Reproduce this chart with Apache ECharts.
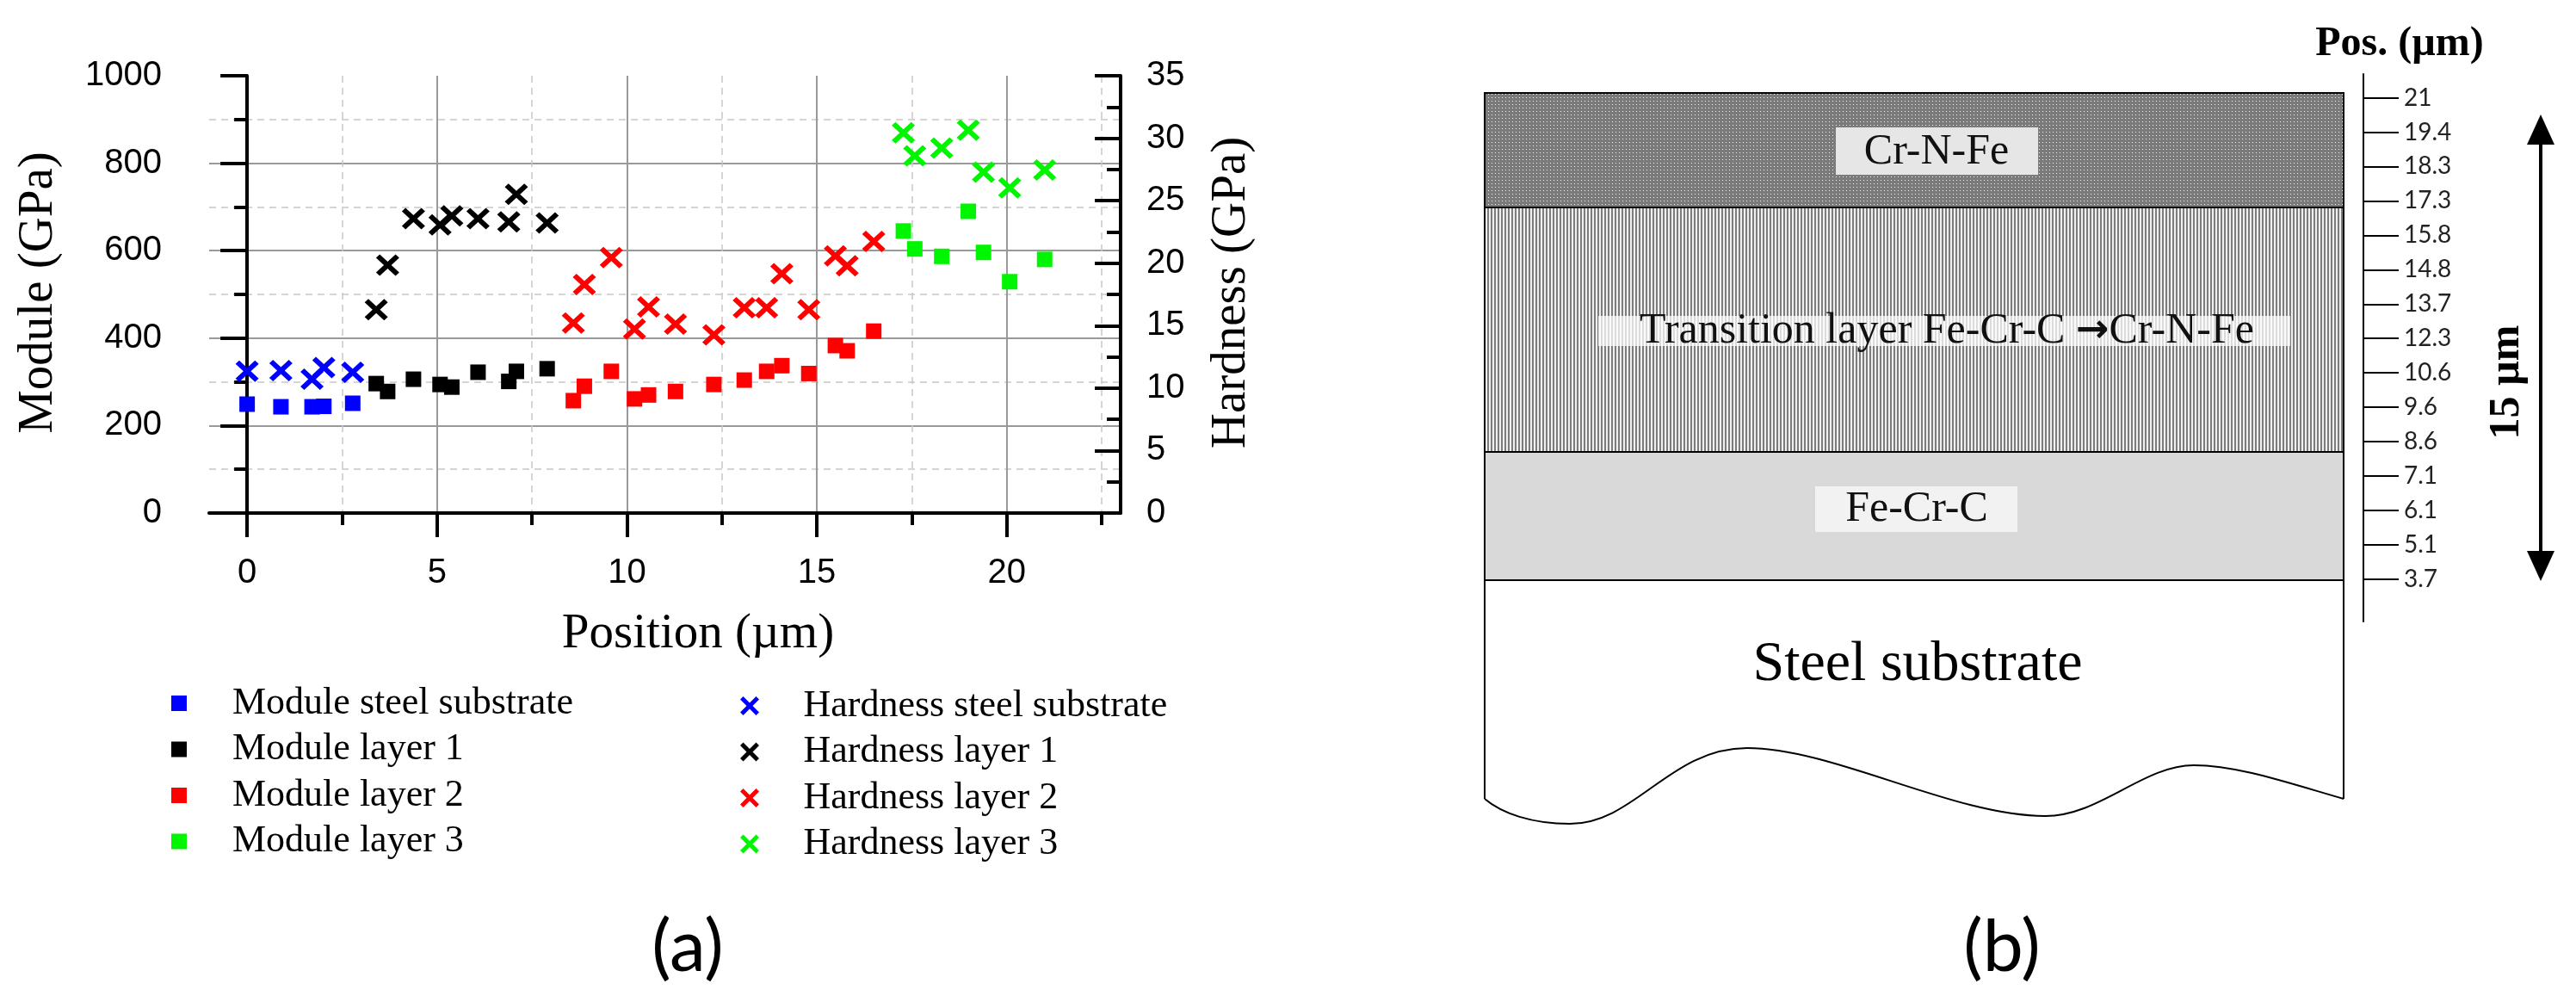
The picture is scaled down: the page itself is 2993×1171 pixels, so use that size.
<!DOCTYPE html>
<html>
<head>
<meta charset="utf-8">
<title>Module and hardness profile</title>
<script src="https://cdn.jsdelivr.net/npm/echarts@6.0.0/dist/echarts.min.js"></script>
<style>
  html, body { margin: 0; padding: 0; background: #fff; }
  #main { width: 2993px; height: 1171px; }
</style>
</head>
<body>
<div id="main"></div>
<script>
// values: position (um), module (GPa), hardness (GPa)
const posSteel = [0, 0.89, 1.71, 2.02, 2.78];
const modSteel = [249, 243, 243, 244, 251];
const hardSteel = [11.35, 11.41, 10.72, 11.64, 11.27];

const posL1 = [3.40, 3.70, 4.38, 5.08, 5.39, 6.08, 6.89, 7.09, 7.90];
const modL1 = [296, 278, 306, 294, 288, 322, 301, 324, 330];
const hardL1 = [16.27, 19.84, 23.56, 23.07, 23.79, 23.56, 23.30, 25.51, 23.22];

const posL2 = [8.59, 8.88, 9.59, 10.20, 10.57, 11.28, 12.29, 13.09, 13.68, 14.08, 14.79, 15.49, 15.80, 16.50];
const modL2 = [257, 290, 324, 261, 270, 278, 294, 304, 324, 337, 319, 383, 371, 416];
const hardL2 = [15.21, 18.30, 20.44, 14.73, 16.50, 15.13, 14.27, 16.44, 16.44, 19.16, 16.27, 20.59, 19.79, 21.73];

const posL3 = [17.28, 17.58, 18.29, 18.99, 19.39, 20.08, 21.00];
const modL3 = [645, 604, 587, 690, 596, 529, 580];
const hardL3 = [30.43, 28.59, 29.22, 30.65, 27.28, 26.02, 27.45];

const xMajor = [0, 5, 10, 15, 20];
const xMinor = [2.5, 7.5, 12.5, 17.5, 22.5];

const moduleNames = ['Module steel substrate', 'Module layer 1', 'Module layer 2', 'Module layer 3'];
const hardNames = ['Hardness steel substrate', 'Hardness layer 1', 'Hardness layer 2', 'Hardness layer 3'];
const colors = ['#0000ff', '#000000', '#ff0000', '#00f500'];

// sketch (b): position scale, top to bottom
const posScale = ['21', '19.4', '18.3', '17.3', '15.8', '14.8', '13.7', '12.3', '10.6', '9.6', '8.6', '7.1', '6.1', '5.1', '3.7'];
const posIdx = posScale.map((s, i) => i);

const crossPath = 'path://M0,16L16,0L50,34L84,0L100,16L66,50L100,84L84,100L50,66L16,100L0,84L34,50Z';

function pairs(xs, ys) {
  return xs.map((x, i) => [x, ys[i]]);
}

function dotPattern() {
  const c = document.createElement('canvas');
  c.width = 4; c.height = 4;
  const g = c.getContext('2d');
  g.fillStyle = '#7b7b7b'; g.fillRect(0, 0, 4, 4);
  g.fillStyle = '#f2f2f2'; g.fillRect(1, 1, 1, 1);
  return c;
}

function stripePattern() {
  const c = document.createElement('canvas');
  c.width = 4; c.height = 4;
  const g = c.getContext('2d');
  g.fillStyle = '#efefef'; g.fillRect(0, 0, 4, 4);
  g.fillStyle = '#7d7d7d'; g.fillRect(0, 0, 2, 4);
  return c;
}

function wave(x1, y1, cpx1, cpy1, cpx2, cpy2, x2, y2) {
  return { type: 'bezierCurve', shape: { x1, y1, cpx1, cpy1, cpx2, cpy2, x2, y2 },
    style: { stroke: '#000', lineWidth: 2, fill: null } };
}

const positions = [posSteel, posL1, posL2, posL3];
const modules = [modSteel, modL1, modL2, modL3];
const hardness = [hardSteel, hardL1, hardL2, hardL3];

const series = [];
moduleNames.forEach((name, i) => {
  series.push({
    name: name, type: 'scatter', xAxisIndex: 0, yAxisIndex: 0,
    symbol: 'rect', symbolSize: 18,
    itemStyle: { color: colors[i], opacity: 1 },
    emphasis: { disabled: true },
    data: pairs(positions[i], modules[i])
  });
});
hardNames.forEach((name, i) => {
  series.push({
    name: name, type: 'scatter', xAxisIndex: 0, yAxisIndex: 1,
    symbol: crossPath, symbolSize: [27, 25],
    itemStyle: { color: colors[i], opacity: 1 },
    emphasis: { disabled: true },
    data: pairs(positions[i], hardness[i])
  });
});

const serif = 'Liberation Serif';
const axisFont = { fontFamily: 'Liberation Sans', fontSize: 40, color: '#000' };
const black4 = { color: '#000', width: 4 };

const chart = echarts.init(document.getElementById('main'));

chart.setOption({
  animation: false,
  backgroundColor: '#fff',
  grid: [
    { left: 243, top: 88, width: 1059, height: 508, outerBoundsMode: 'none' },
    { left: 243, top: 88, width: 1059, height: 508, outerBoundsMode: 'none' },
    { left: 2746, top: 86, width: 10, height: 636, outerBoundsMode: 'none' }
  ],
  xAxis: [
    {
      gridIndex: 0, type: 'value', min: -1, max: 23, position: 'bottom',
      axisLine: { show: true, onZero: false, lineStyle: black4 },
      axisTick: { show: true, customValues: xMajor, length: 28, lineStyle: black4 },
      axisLabel: Object.assign({ customValues: xMajor, margin: 50 }, axisFont),
      splitLine: { show: true, lineStyle: { color: '#999', width: 2 } }
    },
    {
      // minor ticks and dashed grid lines
      gridIndex: 1, type: 'value', min: -1, max: 23, position: 'bottom',
      axisLine: { show: false, onZero: false },
      axisTick: { show: true, customValues: xMinor, length: 14, lineStyle: black4 },
      axisLabel: { show: false },
      splitLine: { show: true, lineStyle: { color: '#c8c8c8', width: 1.5, type: [8, 6] } }
    },
    { gridIndex: 2, show: false, type: 'value', min: 0, max: 1 }
  ],
  yAxis: [
    {
      gridIndex: 0, type: 'value', min: 0, max: 1000, interval: 200, position: 'left',
      axisLine: { show: true, lineStyle: black4 },
      axisTick: { show: true, length: 31, lineStyle: black4 },
      minorTick: { show: true, splitNumber: 2, length: 15, lineStyle: black4 },
      axisLabel: Object.assign({ margin: 55, formatter: v => String(v) }, axisFont),
      splitLine: { show: true, showMaxLine: false, lineStyle: { color: '#999', width: 2 } },
      minorSplitLine: { show: true, lineStyle: { color: '#c8c8c8', width: 1.5, type: [8, 6] } }
    },
    {
      gridIndex: 0, type: 'value', min: 0, max: 35, interval: 5, position: 'right',
      axisLine: { show: true, lineStyle: black4 },
      axisTick: { show: true, inside: true, length: 30, lineStyle: black4 },
      minorTick: { show: true, splitNumber: 2, length: 16, lineStyle: black4 },
      axisLabel: Object.assign({ margin: 30 }, axisFont),
      splitLine: { show: false }
    },
    { gridIndex: 1, show: false, type: 'value', min: 0, max: 1 },
    {
      gridIndex: 2, type: 'value', inverse: true, min: -0.69, max: 15.23, position: 'left',
      axisLine: { show: true, lineStyle: { color: '#000', width: 2 } },
      axisTick: { show: true, inside: true, length: 41, customValues: posIdx, lineStyle: { color: '#000', width: 2 } },
      axisLabel: {
        show: true, inside: true, margin: 47, customValues: posIdx,
        formatter: v => posScale[Math.round(v)],
        fontFamily: 'Lato', fontSize: 28, color: '#222'
      },
      splitLine: { show: false }
    }
  ],
  legend: [
    {
      data: moduleNames, orient: 'vertical', left: 199, top: 795, padding: 0,
      itemWidth: 18, itemHeight: 18, itemGap: 9.5, selectedMode: false,
      textStyle: { fontFamily: serif, fontSize: 44, lineHeight: 44, color: '#000', padding: [0, 0, 0, 48] }
    },
    {
      data: hardNames, orient: 'vertical', left: 860, top: 798, padding: 0,
      itemWidth: 25, itemHeight: 22, itemGap: 9.5, selectedMode: false,
      textStyle: { fontFamily: serif, fontSize: 44, lineHeight: 44, color: '#000', padding: [0, 0, 0, 45] }
    }
  ],
  graphic: [
    // axis titles of (a)
    { type: 'text', x: 45, y: 340, rotation: Math.PI / 2,
      style: { text: 'Module (GPa)', fontFamily: serif, fontSize: 57, fill: '#000', align: 'center', verticalAlign: 'middle' } },
    { type: 'text', x: 1431, y: 340, rotation: Math.PI / 2,
      style: { text: 'Hardness (GPa)', fontFamily: serif, fontSize: 57, fill: '#000', align: 'center', verticalAlign: 'middle' } },
    { type: 'text', x: 811, y: 737,
      style: { text: 'Position (\u00b5m)', fontFamily: serif, fontSize: 57, fill: '#000', align: 'center', verticalAlign: 'middle' } },
    { type: 'text', x: 799, y: 1101,
      style: { text: '(a)', fontFamily: 'Lato', fontSize: 84, fill: '#000', align: 'center', verticalAlign: 'middle' } },
    { type: 'text', x: 2326, y: 1101,
      style: { text: '(b)', fontFamily: 'Lato', fontSize: 84, fill: '#000', align: 'center', verticalAlign: 'middle' } },

    // sketch (b): layers
    { type: 'rect', shape: { x: 1725, y: 108, width: 998, height: 133 },
      style: { fill: { image: dotPattern(), repeat: 'repeat' }, stroke: '#000', lineWidth: 2 } },
    { type: 'rect', shape: { x: 1725, y: 241, width: 998, height: 284 },
      style: { fill: { image: stripePattern(), repeat: 'repeat' }, stroke: '#000', lineWidth: 2 } },
    { type: 'rect', shape: { x: 1725, y: 525, width: 998, height: 149 },
      style: { fill: '#d9d9d9', stroke: '#000', lineWidth: 2 } },
    { type: 'line', shape: { x1: 1725, y1: 674, x2: 1725, y2: 928 }, style: { stroke: '#000', lineWidth: 2 } },
    { type: 'line', shape: { x1: 2723, y1: 674, x2: 2723, y2: 928 }, style: { stroke: '#000', lineWidth: 2 } },
    wave(2723, 928, 2660, 910, 2600, 889, 2549, 889),
    wave(2549, 889, 2490, 889, 2440, 948, 2376, 948),
    wave(2376, 948, 2270, 948, 2130, 869, 2030, 869),
    wave(2030, 869, 1940, 869, 1900, 957, 1824, 957),
    wave(1824, 957, 1780, 957, 1745, 945, 1725, 928),

    // layer labels
    { type: 'rect', shape: { x: 2133, y: 148, width: 235, height: 55 }, style: { fill: '#e6e6e6' } },
    { type: 'text', x: 2250, y: 177,
      style: { text: 'Cr-N-Fe', fontFamily: serif, fontSize: 50, fill: '#111', align: 'center', verticalAlign: 'middle' } },
    { type: 'rect', shape: { x: 1857, y: 367, width: 804, height: 35 }, style: { fill: 'rgba(255,255,255,0.72)' } },
    { type: 'text', x: 2262, y: 385,
      style: {
        text: '{t|Transition layer Fe-Cr-C }{a|\u2192}{t|Cr-N-Fe}',
        align: 'center', verticalAlign: 'middle',
        rich: {
          t: { fontFamily: serif, fontSize: 50, fill: '#111' },
          a: { fontFamily: 'DejaVu Sans', fontWeight: 'bold', fontSize: 46, fill: '#111' }
        }
      } },
    { type: 'rect', shape: { x: 2109, y: 565, width: 235, height: 53 }, style: { fill: '#f2f2f2' } },
    { type: 'text', x: 2227, y: 592,
      style: { text: 'Fe-Cr-C', fontFamily: serif, fontSize: 50, fill: '#111', align: 'center', verticalAlign: 'middle' } },
    { type: 'text', x: 2228, y: 773,
      style: { text: 'Steel substrate', fontFamily: serif, fontSize: 66, fill: '#000', align: 'center', verticalAlign: 'middle' } },

    // position scale title and thickness arrow
    { type: 'text', x: 2788, y: 52,
      style: { text: 'Pos. (\u00b5m)', fontFamily: serif, fontWeight: 'bold', fontSize: 48, fill: '#000', align: 'center', verticalAlign: 'middle' } },
    { type: 'line', shape: { x1: 2952, y1: 160, x2: 2952, y2: 648 }, style: { stroke: '#000', lineWidth: 4 } },
    { type: 'polygon', shape: { points: [[2952, 133], [2968, 168], [2936, 168]] }, style: { fill: '#000' } },
    { type: 'polygon', shape: { points: [[2952, 675], [2968, 640], [2936, 640]] }, style: { fill: '#000' } },
    { type: 'text', x: 2913, y: 444, rotation: Math.PI / 2,
      style: { text: '15 \u00b5m', fontFamily: serif, fontWeight: 'bold', fontSize: 50, fill: '#000', align: 'center', verticalAlign: 'middle' } }
  ],
  series: series
});
</script>
</body>
</html>
